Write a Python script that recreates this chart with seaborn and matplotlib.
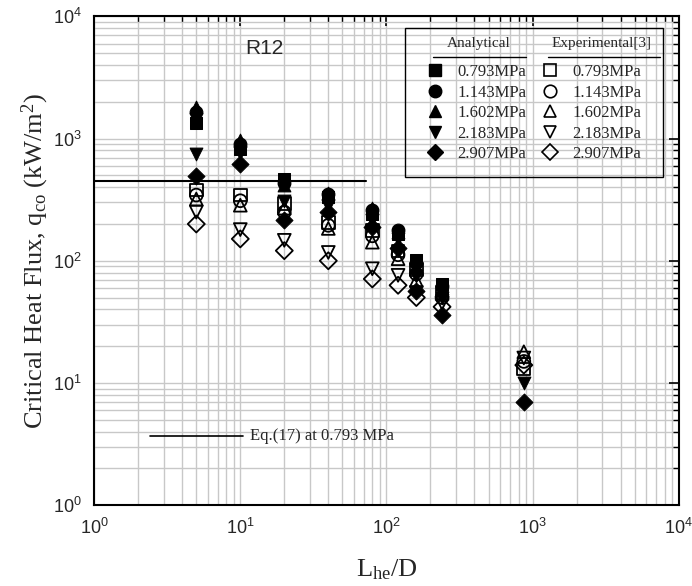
import numpy as np
import pandas as pd
import matplotlib
matplotlib.use("Agg")
import matplotlib.pyplot as plt
import seaborn as sns
from matplotlib.patches import Rectangle
from matplotlib.lines import Line2D

# L_he/D positions of the data columns
lhe_d = [5, 10, 20, 40, 80, 120, 160, 240, 870]

pressures = ["0.793MPa", "1.143MPa", "1.602MPa", "2.183MPa", "2.907MPa"]
markers = ["s", "o", "^", "v", "D"]

# analytical CHF (kW/m2), filled markers
ana_0793 = [1330, 820, 470, 330, 240, 165, 102, 65, np.nan]
ana_1143 = [1650, 900, 430, 350, 260, 178, 95, 62, np.nan]
ana_1602 = [1800, 980, 420, 360, 270, 172, 88, 60, np.nan]
ana_2183 = [750, 760, 310, 280, 215, 150, 75, 50, 10]
ana_2907 = [490, 620, 215, 250, 190, 128, 57, 36, 7]

# experimental CHF (kW/m2), open markers
exp_0793 = [380, 345, 295, 205, 178, 120, 85, 55, 13]
exp_1143 = [345, 310, 250, 195, 160, 112, 78, 50, 15]
exp_1602 = [320, 285, 270, 184, 142, 104, 69, 54, 18]
exp_2183 = [250, 180, 147, 117, 86, 76, 55, 45, 16]
exp_2907 = [200, 151, 121, 100, 71, 63, 50, 42, 14]

# Eq.(17) at 0.793 MPa
eq17_x = [1, 72]
eq17_y = [450, 450]

analytical = [ana_0793, ana_1143, ana_1602, ana_2183, ana_2907]
experimental = [exp_0793, exp_1143, exp_1602, exp_2183, exp_2907]

sns.set_style("white")
plt.rcParams["font.family"] = ["Liberation Sans", "DejaVu Sans"]
plt.rcParams["mathtext.default"] = "regular"

fig = plt.figure(figsize=(6.92, 5.86), dpi=100)
ax = fig.add_axes([0.136, 0.138, 0.845, 0.834])
ax.set_xscale("log")
ax.set_yscale("log")
ax.set_xlim(1, 1e4)
ax.set_ylim(1, 1e4)

ax.grid(True, which="both", color="#c8c8c8", linewidth=1.0, zorder=0)
ax.set_axisbelow(True)

sns.lineplot(x=eq17_x, y=eq17_y, color="black", linewidth=1.5, ax=ax, zorder=2)

handles = []
for vals, m in zip(analytical, markers):
    df = pd.DataFrame({"x": lhe_d, "y": vals}).dropna()
    sns.scatterplot(data=df, x="x", y="y", marker=m, color="black",
                    edgecolor="black", s=85 if m != "D" else 75, ax=ax, zorder=3)
    handles.append(Line2D([], [], linestyle="none", marker=m, color="black",
                          markersize=9 if m != "D" else 8))
for vals, m in zip(experimental, markers):
    df = pd.DataFrame({"x": lhe_d, "y": vals}).dropna()
    sns.scatterplot(data=df, x="x", y="y", marker=m, facecolor="none",
                    edgecolor="black", linewidth=1.3, s=85 if m != "D" else 75,
                    ax=ax, zorder=4)
    handles.append(Line2D([], [], linestyle="none", marker=m, markerfacecolor="none",
                          markeredgecolor="black", markeredgewidth=1.2,
                          markersize=9 if m != "D" else 8))

# ticks
ax.tick_params(which="both", direction="in", top=True, right=True, color="black")
ax.tick_params(which="major", length=7, width=1.2, labelsize=13, pad=9)
ax.tick_params(which="minor", length=4, width=1.0)
for s in ax.spines.values():
    s.set_linewidth(1.5)
    s.set_color("black")

serif = ["Liberation Serif", "DejaVu Serif"]
ax.set_ylabel(r"Critical Heat Flux, $\mathregular{q_{co}}$ (kW/m$\mathregular{^2}$)",
              fontsize=19, family=serif, labelpad=1)
ax.set_xlabel(r"L$\mathregular{_{he}}$/D", fontsize=19, family=serif, labelpad=14)

ax.text(0.292, 0.935, "R12", transform=ax.transAxes, fontsize=15,
        ha="center", va="center")

# legend box with two headed columns
ax.add_patch(Rectangle((0.532, 0.671), 0.441, 0.306, transform=ax.transAxes,
                       fill=False, edgecolor="black", linewidth=1.0, zorder=5))
ax.text(0.658, 0.945, "Analytical", transform=ax.transAxes, fontsize=11,
        family=serif, ha="center", va="center")
ax.text(0.867, 0.945, "Experimental[3]", transform=ax.transAxes, fontsize=11,
        family=serif, ha="center", va="center")
ax.plot([0.579, 0.738], [0.916, 0.916], transform=ax.transAxes, color="black", lw=1)
ax.plot([0.776, 0.968], [0.916, 0.916], transform=ax.transAxes, color="black", lw=1)
leg = ax.legend(handles, pressures + pressures, ncol=2, frameon=False,
                loc="upper left", bbox_to_anchor=(0.569, 0.902),
                borderaxespad=0, borderpad=0, handlelength=1.0,
                handletextpad=0.82, columnspacing=0.94, labelspacing=0.27,
                prop={"family": serif, "size": 12})

# Eq.(17) key
ax.plot([0.096, 0.255], [0.141, 0.141], transform=ax.transAxes, color="black", lw=1.2)
ax.text(0.267, 0.141, "Eq.(17) at 0.793 MPa", transform=ax.transAxes, fontsize=12,
        family=serif, ha="left", va="center")

fig.savefig("out.png", dpi=100)
